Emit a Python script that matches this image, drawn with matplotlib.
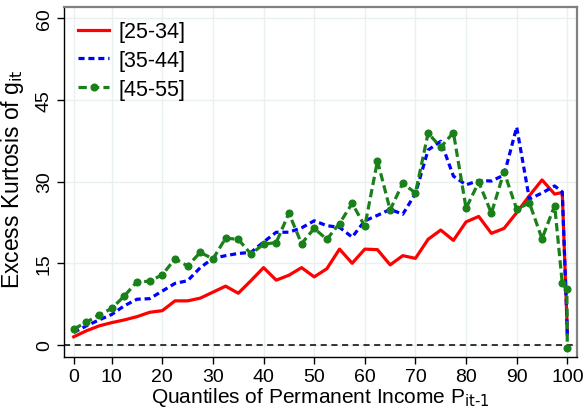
import matplotlib
matplotlib.use("Agg")
import matplotlib.pyplot as plt

plt.rcParams['font.family'] = ['Liberation Sans', 'DejaVu Sans']
plt.rcParams['mathtext.default'] = 'regular'

# quantile positions (2.5 steps, then top quantiles)
quantiles = [2.5, 5, 7.5, 10, 12.5, 15, 17.5, 20, 22.5, 25, 27.5, 30, 32.5, 35, 37.5,
             40, 42.5, 45, 47.5, 50, 52.5, 55, 57.5, 60, 62.5, 65, 67.5, 70, 72.5, 75,
             77.5, 80, 82.5, 85, 87.5, 90, 92.5, 95, 97.5, 99, 99.9, 100]

age_25_34 = [1.5, 2.6, 3.5, 4.1, 4.6, 5.2, 6.0, 6.3, 8.1, 8.1, 8.6, 9.7, 10.8, 9.5, 11.8,
             14.2, 11.9, 12.8, 14.2, 12.5, 14.0, 17.6, 15.0, 17.6, 17.5, 14.7, 16.4, 15.9, 19.4, 21.1,
             19.2, 22.6, 23.6, 20.5, 21.4, 24.3, 27.4, 30.3, 27.7, 28.0, 5.0, 2.0]

age_35_44 = [2.3, 3.5, 4.6, 5.6, 7.2, 8.4, 8.5, 9.9, 11.3, 11.8, 14.2, 15.9, 16.4, 16.8, 17.0,
             18.9, 20.7, 20.7, 21.5, 22.8, 21.9, 21.6, 19.8, 22.8, 23.8, 24.9, 24.0, 27.8, 35.8, 37.4,
             31.0, 29.4, 30.2, 30.1, 31.2, 40.0, 26.8, 27.9, 29.2, 28.1, 5.0, 1.8]

age_45_55 = [2.9, 4.2, 5.5, 6.7, 9.0, 11.6, 11.7, 12.9, 15.8, 14.5, 17.0, 15.8, 19.6, 19.4, 16.7,
             18.5, 18.8, 24.2, 18.6, 21.4, 19.4, 22.3, 26.0, 21.8, 33.8, 24.8, 29.7, 27.9, 38.9, 36.3,
             39.0, 25.1, 29.9, 24.2, 31.8, 24.9, 26.1, 19.5, 25.6, 11.3, 10.2, -0.5]

series_labels = ['[25-34]', '[35-44]', '[45-55]']

xtick_pos = [2.5, 10, 20, 30, 40, 50, 60, 70, 80, 90, 100]
xtick_labels = ['0', '10', '20', '30', '40', '50', '60', '70', '80', '90', '100']
ytick_vals = [0, 15, 30, 45, 60]

fig = plt.figure(figsize=(5.85, 4.10), dpi=100)
ax = fig.add_axes([0.1094, 0.1276, 0.8764, 0.8522])

grid_color = '#e8f0f2'
for xv in xtick_pos:
    ax.axvline(xv, color=grid_color, lw=1.0, zorder=0)
for yv in ytick_vals:
    ax.axhline(yv, color=grid_color, lw=1.0, zorder=0)

ax.axhline(0, color='black', lw=1.1, dashes=(4, 3), zorder=1)

ax.plot(quantiles, age_25_34, color='#ff0000', lw=2.3, label=series_labels[0], zorder=3)
ax.plot(quantiles, age_35_44, color='#0000ff', lw=2.3, dashes=(1.9, 1.2),
        label=series_labels[1], zorder=4)
ax.plot(quantiles, age_45_55, color='#1a801a', lw=2.3, dashes=(2.6, 1.3),
        marker='o', markersize=4.8, label=series_labels[2], zorder=5)

ax.set_xlim(0.58, 101.85)
ax.set_ylim(-2.15, 62.0)

ax.set_xticks(xtick_pos)
ax.set_xticklabels(xtick_labels, fontsize=14)
ax.set_yticks(ytick_vals)
ax.set_yticklabels([str(v) for v in ytick_vals], fontsize=14, rotation=90, va='center')
ax.tick_params(axis='both', direction='out', length=5, width=1.0, color='black', pad=3)

for side in ['left', 'bottom']:
    ax.spines[side].set_color('black')
    ax.spines[side].set_linewidth(1.0)
for side in ['top', 'right']:
    ax.spines[side].set_color('#808080')
    ax.spines[side].set_linewidth(1.6)

ax.set_xlabel(r'Quantiles of Permanent Income P$_{\text{it-1}}$', fontsize=15, labelpad=0)
ax.set_ylabel(r'Excess Kurtosis of g$_{\text{it}}$', fontsize=16.5, labelpad=4)
ax.yaxis.set_label_coords(-0.075, 0.51)

leg = ax.legend(loc='upper left', frameon=False, fontsize=15.5, handlelength=1.45,
                handletextpad=0.45, labelspacing=0.36, borderaxespad=0.15, borderpad=0.5)

fig.savefig('out.png', dpi=100)
